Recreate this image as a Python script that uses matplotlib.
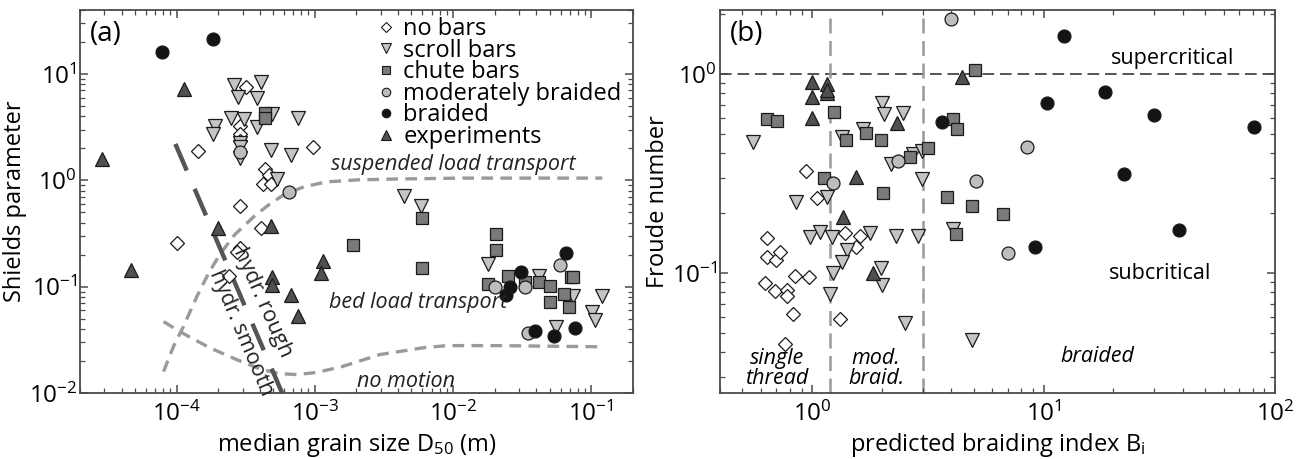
import matplotlib
matplotlib.use("Agg")
import matplotlib.pyplot as plt
from matplotlib.lines import Line2D

plt.rcParams['font.family'] = ['Open Sans', 'DejaVu Sans']
plt.rcParams['mathtext.fontset'] = 'custom'
plt.rcParams['mathtext.rm'] = 'Open Sans'
plt.rcParams['mathtext.it'] = 'Open Sans:italic'

# ---- panel (a): grain size D50 (m) vs Shields parameter ----
a_nobars_d = [3.16e-4, 2.86e-4, 2.86e-4, 2.86e-4, 1.44e-4, 9.7e-4, 4.35e-4, 4.7e-4,
              4.2e-4, 4.8e-4, 2.86e-4, 4.1e-4, 1.0e-4, 2.86e-4, 2.75e-4, 2.4e-4]
a_nobars_s = [7.55, 3.25, 2.73, 2.35, 1.89, 2.07, 1.28, 1.12,
              0.93, 0.93, 0.575, 0.358, 0.26, 0.232, 0.21, 0.127]

a_scroll_d = [2.6e-4, 4.1e-4, 2.77e-4, 3.8e-4, 2.46e-4, 3.06e-4, 4.9e-4, 3.8e-4, 7.6e-4,
              1.9e-4, 1.82e-4, 2.86e-4, 2.86e-4, 2.86e-4, 4.8e-4, 6.7e-4, 5.3e-4,
              4.4e-3, 5.9e-3,
              0.0178, 0.042, 0.074, 0.12, 0.102, 0.107, 0.056]
a_scroll_s = [7.9, 8.4, 6.1, 6.0, 3.9, 3.8, 4.2, 3.2, 3.9,
              3.25, 2.7, 2.24, 2.07, 1.62, 1.93, 1.74, 1.03,
              0.71, 0.575,
              0.162, 0.126, 0.081, 0.081, 0.058, 0.049, 0.042]

a_chute_d = [4.35e-4, 4.35e-4, 6.0e-3, 0.0204, 0.0204, 1.9e-3, 6.0e-3, 0.025, 0.018,
             0.033, 0.042, 0.050, 0.063, 0.071, 0.074, 0.050, 0.069]
a_chute_s = [4.3, 3.9, 0.44, 0.31, 0.22, 0.245, 0.15, 0.126, 0.107,
             0.11, 0.11, 0.102, 0.086, 0.123, 0.123, 0.071, 0.065]

a_modbr_d = [6.5e-4, 2.9e-4, 0.059, 0.020, 0.033, 0.035]
a_modbr_s = [0.78, 1.86, 0.16, 0.10, 0.10, 0.037]

a_braid_d = [7.9e-5, 1.82e-4, 0.066, 0.031, 0.026, 0.024, 0.039, 0.054, 0.076]
a_braid_s = [16.2, 21.3, 0.209, 0.138, 0.10, 0.084, 0.038, 0.034, 0.041]

a_exp_d = [2.88e-5, 1.14e-4, 4.7e-5, 2.0e-4, 4.8e-4, 4.9e-4, 4.9e-4, 6.7e-4, 7.6e-4,
           1.15e-3, 1.1e-3]
a_exp_s = [1.58, 7.2, 0.145, 0.358, 0.37, 0.124, 0.104, 0.083, 0.053,
           0.175, 0.135]

# threshold curves
susp_d = [8.05e-5, 9.5e-5, 1.12e-4, 1.40e-4, 1.71e-4, 2.05e-4, 2.63e-4, 3.61e-4,
          4.64e-4, 5.96e-4, 8.32e-4, 1.22e-3, 2.02e-3, 3.93e-3, 1.2e-2, 0.12]
susp_s = [0.0159, 0.0274, 0.0421, 0.0805, 0.135, 0.200, 0.308, 0.454,
          0.589, 0.731, 0.869, 0.968, 1.01, 1.03, 1.05, 1.05]

crit_d = [8.05e-5, 1.087e-4, 1.73e-4, 2.72e-4, 4.13e-4, 5.58e-4, 7.41e-4, 1.03e-3,
          1.57e-3, 2.96e-3, 6.17e-3, 9.05e-3, 2.09e-2, 0.12]
crit_s = [0.0469, 0.0370, 0.0267, 0.0206, 0.0166, 0.0152, 0.0149, 0.0156,
          0.0177, 0.0230, 0.0267, 0.0279, 0.0279, 0.0272]

rough_d = [9.8e-5, 5.8e-4]
rough_s = [2.2, 0.01]

# ---- panel (b): predicted braiding index vs Froude number ----
b_nobars_bi = [0.94, 1.05, 0.638, 0.638, 0.70, 0.726, 0.626, 0.69, 0.78, 0.78,
               0.84, 0.97, 0.83, 0.76, 1.39, 1.61, 1.54, 1.32]
b_nobars_fr = [0.326, 0.238, 0.15, 0.12, 0.116, 0.128, 0.089, 0.081, 0.082, 0.077,
               0.097, 0.096, 0.062, 0.044, 0.159, 0.153, 0.135, 0.059]

b_scroll_bi = [0.556, 2.01, 2.05, 2.48, 1.35, 1.66, 2.20, 2.74, 2.99, 2.99,
               0.853, 1.16, 0.98, 1.08, 1.22, 1.78, 2.31, 2.88, 4.08,
               1.42, 1.34, 1.23, 1.19, 1.99, 2.01, 2.53, 4.93]
b_scroll_fr = [0.455, 0.715, 0.63, 0.637, 0.482, 0.53, 0.353, 0.396, 0.41, 0.297,
               0.227, 0.241, 0.152, 0.161, 0.152, 0.159, 0.153, 0.153, 0.166,
               0.13, 0.114, 0.10, 0.079, 0.106, 0.087, 0.056, 0.046]

b_chute_bi = [0.638, 0.705, 1.245, 1.40, 1.71, 1.99, 1.13, 2.03, 2.66, 3.18,
              4.08, 4.24, 3.84, 4.2, 5.08, 4.93, 6.65]
b_chute_fr = [0.594, 0.58, 0.644, 0.466, 0.505, 0.466, 0.30, 0.252, 0.383, 0.425,
              0.594, 0.53, 0.241, 0.157, 1.05, 0.217, 0.198]

b_modbr_bi = [4.0, 8.44, 5.13, 7.05, 1.23, 2.36]
b_modbr_fr = [1.89, 0.43, 0.29, 0.126, 0.283, 0.365]

b_braid_bi = [3.65, 12.2, 10.3, 18.5, 29.9, 81.0, 22.2, 38.4, 9.2]
b_braid_fr = [0.574, 1.55, 0.72, 0.81, 0.62, 0.54, 0.315, 0.164, 0.135]

b_exp_bi = [1.0, 1.0, 1.16, 1.16, 1.16, 1.0, 2.33, 1.54, 1.36, 4.46, 1.84]
b_exp_fr = [0.91, 0.77, 0.89, 0.80, 0.83, 0.60, 0.567, 0.303, 0.191, 0.966, 0.10]

classes = ['no bars', 'scroll bars', 'chute bars', 'moderately braided', 'braided', 'experiments']
styles = {
    'no bars': dict(marker='D', color='white', ms=7.0),
    'scroll bars': dict(marker='v', color='#c4c4c4', ms=10),
    'chute bars': dict(marker='s', color='#7a7a7a', ms=9),
    'moderately braided': dict(marker='o', color='#bdbdbd', ms=9.3),
    'braided': dict(marker='o', color='#141414', ms=9.3),
    'experiments': dict(marker='^', color='#505050', ms=10),
}

a_data = {
    'no bars': (a_nobars_d, a_nobars_s),
    'scroll bars': (a_scroll_d, a_scroll_s),
    'chute bars': (a_chute_d, a_chute_s),
    'moderately braided': (a_modbr_d, a_modbr_s),
    'braided': (a_braid_d, a_braid_s),
    'experiments': (a_exp_d, a_exp_s),
}
b_data = {
    'no bars': (b_nobars_bi, b_nobars_fr),
    'scroll bars': (b_scroll_bi, b_scroll_fr),
    'chute bars': (b_chute_bi, b_chute_fr),
    'moderately braided': (b_modbr_bi, b_modbr_fr),
    'braided': (b_braid_bi, b_braid_fr),
    'experiments': (b_exp_bi, b_exp_fr),
}

SPINE = '#4a4a4a'
FS = 17      # axis labels
TFS = 17.5   # tick labels
NFS = 15.5   # annotations in the plot area


def draw_points(ax, data):
    for name in classes:
        st = styles[name]
        x, y = data[name]
        ax.plot(x, y, linestyle='none', marker=st['marker'], ms=st['ms'],
                mfc=st['color'], mec='#1a1a1a', mew=0.9, zorder=3)


def style_axis(ax):
    ax.set_xscale('log')
    ax.set_yscale('log')
    for sp in ax.spines.values():
        sp.set_color(SPINE)
        sp.set_linewidth(1.3)
    ax.tick_params(which='both', direction='in', top=True, right=True, color=SPINE,
                   labelsize=TFS)
    ax.tick_params(axis='y', pad=2)
    ax.tick_params(axis='x', pad=6)
    ax.tick_params(which='major', length=6, width=1.1)
    ax.tick_params(which='minor', length=3.5, width=0.9)


fig = plt.figure(figsize=(13.02, 4.59), dpi=100)
ax1 = fig.add_axes([0.0614, 0.1438, 0.4247, 0.8344])
ax2 = fig.add_axes([0.553, 0.1438, 0.4263, 0.8344])

# panel (a)
style_axis(ax1)
ax1.plot(susp_d, susp_s, color='#9a9a9a', lw=2.4, dashes=(3.5, 2.2), zorder=2)
ax1.plot(crit_d, crit_s, color='#9a9a9a', lw=2.4, dashes=(3.5, 2.2), zorder=2)
ax1.plot(rough_d, rough_s, color='#555555', lw=3.2, dashes=(6.5, 4.5), zorder=2)
draw_points(ax1, a_data)
ax1.set_xlim(2e-5, 2e-1)
ax1.set_ylim(1e-2, 40)
ax1.set_xlabel('median grain size D$_{50}$ (m)', fontsize=FS, labelpad=3)
ax1.set_ylabel('Shields parameter', fontsize=FS, labelpad=1)
ax1.text(0.018, 0.975, '(a)', transform=ax1.transAxes, fontsize=20, va='top', ha='left')
ax1.text(1.0e-2, 1.42, 'suspended load transport', style='italic', fontsize=NFS,
         ha='center', va='center', color='#222222')
ax1.text(5.6e-3, 0.071, 'bed load transport', style='italic', fontsize=NFS,
         ha='center', va='center', color='#222222')
ax1.text(4.6e-3, 0.0128, 'no motion', style='italic', fontsize=NFS,
         ha='center', va='center', color='#222222')
ax1.text(4.2e-4, 0.071, 'hydr. rough', fontsize=NFS, rotation=-66,
         ha='center', va='center', color='#222222')
ax1.text(2.9e-4, 0.037, 'hydr. smooth', fontsize=NFS, rotation=-67,
         ha='center', va='center', color='#222222')

handles = [Line2D([], [], linestyle='none', marker=styles[n]['marker'],
                  ms=styles[n]['ms'] * 0.66, mfc=styles[n]['color'], mec='#1a1a1a', mew=0.8)
           for n in classes]
ax1.legend(handles, classes, loc='upper left', frameon=False, fontsize=17,
           handlelength=0.6, handletextpad=0.45, labelspacing=-0.1,
           borderaxespad=0.0, borderpad=0.0, bbox_to_anchor=(0.54, 0.982))

# panel (b)
style_axis(ax2)
ax2.axhline(1.0, color='#555555', lw=1.4, dashes=(6, 3), zorder=1)
ax2.axvline(1.2, color='#999999', lw=1.8, dashes=(6, 3), zorder=1)
ax2.axvline(3.0, color='#999999', lw=1.8, dashes=(6, 3), zorder=1)
draw_points(ax2, b_data)
ax2.set_xlim(0.4, 100)
ax2.set_ylim(0.025, 2.1)
ax2.set_xlabel('predicted braiding index B$_\\mathrm{i}$', fontsize=FS, labelpad=3)
ax2.set_ylabel('Froude number', fontsize=FS, labelpad=1)
ax2.text(0.018, 0.975, '(b)', transform=ax2.transAxes, fontsize=20, va='top', ha='left')
ax2.text(36, 1.2, 'supercritical', fontsize=NFS, ha='center', va='center')
ax2.text(32, 0.1, 'subcritical', fontsize=NFS, ha='center', va='center')
ax2.text(0.705, 0.0333, 'single\nthread', style='italic', fontsize=NFS,
         ha='center', va='center', linespacing=0.95)
ax2.text(1.89, 0.0333, 'mod.\nbraid.', style='italic', fontsize=NFS,
         ha='center', va='center', linespacing=0.95)
ax2.text(17, 0.038, 'braided', style='italic', fontsize=NFS, ha='center', va='center')

fig.savefig('out.png', dpi=100)
